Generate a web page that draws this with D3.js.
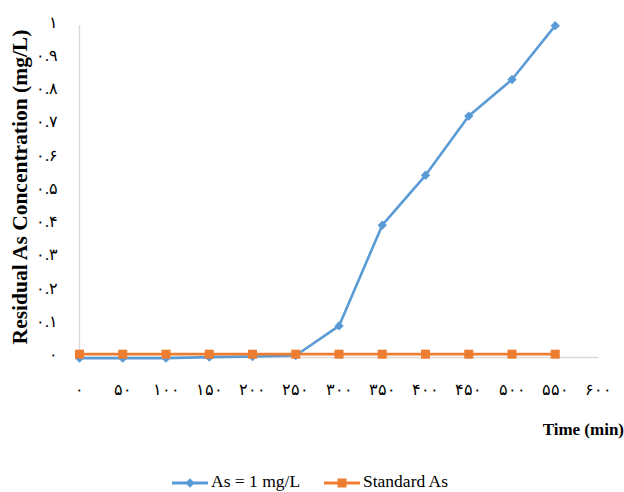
<!DOCTYPE html>
<html><head><meta charset="utf-8">
<script src="https://cdn.jsdelivr.net/npm/d3@7"></script>
<style>
body{margin:0;background:#fff;}
svg{display:block;}
text{font-family:"Liberation Serif","Times New Roman",serif;fill:#000;}
</style></head>
<body>
<svg id="c" width="624" height="492"></svg>
<script>
const times = [0,50,100,150,200,250,300,350,400,450,500,550];
const asValues = [-0.002,-0.002,-0.002,0.001,0.003,0.006,0.095,0.398,0.548,0.726,0.836,0.998];
const standardValues = [0.01,0.01,0.01,0.01,0.01,0.01,0.01,0.01,0.01,0.01,0.01,0.01];
const xTicks = [0,50,100,150,200,250,300,350,400,450,500,550,600];
const yTicks = [0,0.1,0.2,0.3,0.4,0.5,0.6,0.7,0.8,0.9,1];
const seriesNames = ["As = 1 mg/L","Standard As"];
const colors = ["#5B9BD5","#ED7D31"];

const fa = s => String(s).replace(/[0-9]/g, d => "۰۱۲۳۴۵۶۷۸۹"[+d]);

const svg = d3.select("#c");
const x = d3.scaleLinear().domain([0,600]).range([79.5,598.5]);
const y = d3.scaleLinear().domain([0,1]).range([357.5,25]);

// axes lines
svg.append("line").attr("x1",x(0)).attr("x2",x(0)).attr("y1",y(1)).attr("y2",y(0))
  .attr("stroke","#D9D9D9").attr("stroke-width",1.3);
svg.append("line").attr("x1",x(0)).attr("x2",x(600)).attr("y1",y(0)).attr("y2",y(0))
  .attr("stroke","#D9D9D9").attr("stroke-width",1.3);

// tick labels
svg.append("g").selectAll("text").data(yTicks).join("text")
  .attr("x",58).attr("y",d=>y(d)-1).attr("text-anchor","end").attr("dominant-baseline","middle")
  .style("font-size","16px").text(d=>fa(d===0?"0":d===1?"1":d3.format(".1f")(d)));
svg.append("g").selectAll("text").data(xTicks).join("text")
  .attr("x",d=>x(d)).attr("y",391).attr("text-anchor","middle").attr("dominant-baseline","middle")
  .style("font-size","16px").text(d=>fa(d));

// series
const line = d3.line().x((d,i)=>x(times[i])).y(d=>y(d));
const series = [asValues, standardValues];
series.forEach((vals,k)=>{
  svg.append("path").attr("d",line(vals)).attr("fill","none")
    .attr("stroke",colors[k]).attr("stroke-width",k===0?2.6:2.8).attr("stroke-linejoin","round");
});
// markers
svg.append("g").selectAll("path").data(asValues).join("path")
  .attr("transform",(d,i)=>`translate(${x(times[i])},${y(d)})`)
  .attr("d",d3.symbol().type(d3.symbolDiamond2).size(56)).attr("fill",colors[0]);
svg.append("g").selectAll("rect").data(standardValues).join("rect")
  .attr("x",(d,i)=>x(times[i])-4.5).attr("y",d=>y(d)-4.5).attr("width",9).attr("height",9)
  .attr("fill",colors[1]);

// axis titles
svg.append("text").attr("transform","translate(22,187) rotate(-90)").attr("text-anchor","middle")
  .attr("dominant-baseline","middle").style("font-size","21.5px").style("font-weight","bold")
  .text("Residual  As Concentration (mg/L)");
svg.append("text").attr("x",624).attr("y",431).attr("text-anchor","end").attr("dominant-baseline","middle")
  .style("font-size","17px").style("font-weight","bold").text("Time (min)");

// legend
const lg = svg.append("g");
const legendX = [172,324];
seriesNames.forEach((n,k)=>{
  const lx = legendX[k], ly = 483;
  lg.append("line").attr("x1",lx).attr("x2",lx+36).attr("y1",ly).attr("y2",ly)
    .attr("stroke",colors[k]).attr("stroke-width",2.8);
  if(k===0){
    lg.append("path").attr("transform",`translate(${lx+18},${ly})`)
      .attr("d",d3.symbol().type(d3.symbolDiamond2).size(56)).attr("fill",colors[0]);
  } else {
    lg.append("rect").attr("x",lx+18-4.5).attr("y",ly-4.5).attr("width",9).attr("height",9).attr("fill",colors[1]);
  }
  lg.append("text").attr("x",lx+39).attr("y",ly).attr("dominant-baseline","middle")
    .style("font-size","17.5px").text(n);
});
</script>
</body></html>
